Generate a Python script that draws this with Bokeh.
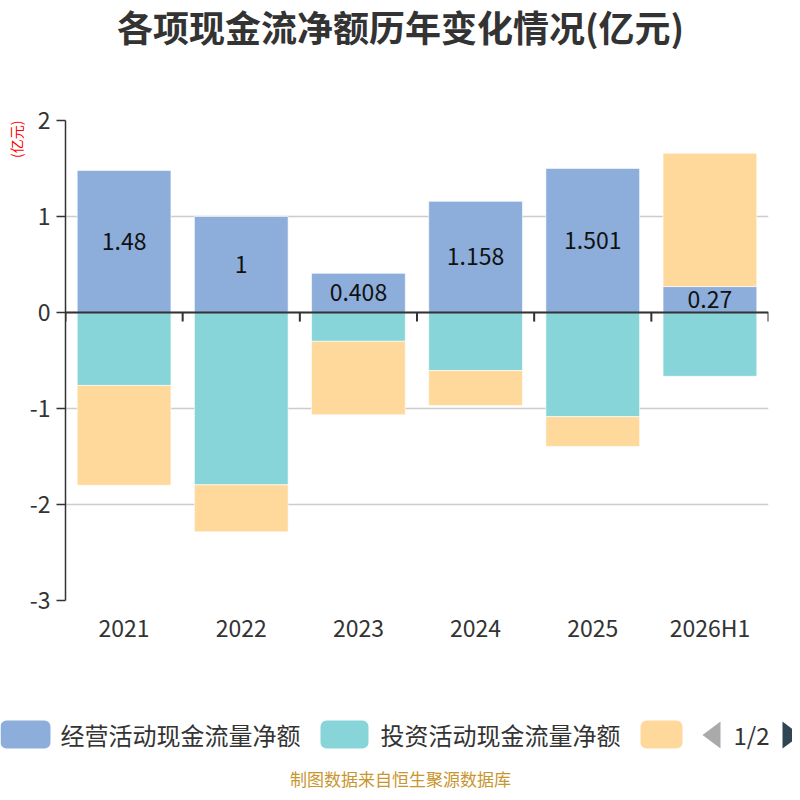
import numpy as np
from bokeh.plotting import figure
from bokeh.layouts import column
from bokeh.models import (ColumnDataSource, FixedTicker, Span, LinearAxis, Title, Range1d)
from bokeh.core.properties import value
from bokeh.embed import file_html
from bokeh.resources import INLINE

FONT = "Noto Sans CJK SC"

title_text = "各项现金流净额历年变化情况(亿元)"
y_unit = "(亿元)"
footer_text = "制图数据来自恒生聚源数据库"
categories = ["2021", "2022", "2023", "2024", "2025", "2026H1"]
series_names = ["经营活动现金流量净额", "投资活动现金流量净额", "筹资活动现金流量净额"]
operating = [1.48, 1.0, 0.408, 1.158, 1.501, 0.27]
investing = [-0.76, -1.795, -0.30, -0.605, -1.085, -0.665]
financing = [-1.04, -0.49, -0.765, -0.365, -0.31, 1.39]
operating_labels = ["1.48", "1", "0.408", "1.158", "1.501", "0.27"]
y_ticks = [-3, -2, -1, 0, 1, 2]
colors = ["#8DADDA", "#88D5D9", "#FED99B"]

W = 792


def canvas(h):
    f = figure(width=W, height=h, x_range=Range1d(0, W), y_range=Range1d(h, 0),
               output_backend="svg", toolbar_location=None,
               min_border=0, min_border_left=0, min_border_right=0,
               min_border_top=0, min_border_bottom=0,
               x_axis_location=None, y_axis_location=None)
    f.outline_line_color = None
    f.grid.visible = False
    f.border_fill_color = "white"
    f.frame_align = False
    return f


# ---------- header ----------
head = canvas(60)
head.text(x=[400], y=[25], text=[title_text], text_align="center",
          text_baseline="middle", text_font=value(FONT), text_font_size="36px",
          text_font_style="bold", text_color="#333333")

# ---------- main chart ----------
p = figure(width=W, height=640, x_range=(0, len(categories)), y_range=(-3, 2),
           output_backend="svg", toolbar_location=None,
           min_border_left=65, min_border_right=W - 768, min_border_top=60,
           min_border_bottom=100, x_axis_location=None, y_axis_location=None)
p.outline_line_color = None
p.border_fill_color = "white"
p.frame_align = False

yax = LinearAxis(ticker=FixedTicker(ticks=y_ticks),
                 major_label_overrides={t: str(t) for t in y_ticks})
yax.axis_line_color = "#333333"
yax.axis_line_width = 1.5
yax.major_tick_line_color = "#333333"
yax.major_tick_line_width = 1.5
yax.major_tick_out = 9
yax.major_tick_in = 0
yax.minor_tick_line_color = None
yax.major_label_text_font = FONT
yax.major_label_text_font_size = "23px"
yax.major_label_text_color = "#333333"
yax.major_label_standoff = 6
p.add_layout(yax, "left")

p.add_layout(Title(text=y_unit, align="right", text_font=FONT, text_font_size="14px",
                   text_color="#FF0000", text_font_style="normal", standoff=2), "left")

xs_center = [i + 0.5 for i in range(len(categories))]
xax = LinearAxis(ticker=FixedTicker(ticks=xs_center),
                 major_label_overrides={xc: c for xc, c in zip(xs_center, categories)})
xax.axis_line_color = None
xax.major_tick_line_color = None
xax.minor_tick_line_color = None
xax.major_label_text_font = FONT
xax.major_label_text_font_size = "23px"
xax.major_label_text_color = "#333333"
xax.major_label_standoff = 3
p.add_layout(xax, "below")

p.ygrid.ticker = FixedTicker(ticks=y_ticks)
p.ygrid.grid_line_color = "#CCCCCC"
p.ygrid.grid_line_width = 1.5
p.xgrid.grid_line_color = None

series = [np.array(operating), np.array(investing), np.array(financing)]
pos_base = np.zeros(len(categories))
neg_base = np.zeros(len(categories))
stacks = []
for vals in series:
    bottom = np.where(vals >= 0, pos_base, neg_base + vals)
    top = np.where(vals >= 0, pos_base + vals, neg_base)
    pos_base = np.where(vals >= 0, pos_base + vals, pos_base)
    neg_base = np.where(vals < 0, neg_base + vals, neg_base)
    stacks.append((bottom, top))

for (bottom, top), col in zip(stacks, colors):
    src = ColumnDataSource(dict(x=xs_center, bottom=bottom, top=top))
    p.vbar(x="x", bottom="bottom", top="top", width=0.8, source=src,
           fill_color=col, line_color="white", line_width=1, line_alpha=0.6)

p.add_layout(Span(location=0, dimension="width", line_color="#333333", line_width=2))
bounds = list(range(len(categories) + 1))
p.segment(x0=bounds, y0=[0] * len(bounds), x1=bounds, y1=[-0.095] * len(bounds),
          line_color="#333333", line_width=2)

ob, ot = stacks[0]
lab_src = ColumnDataSource(dict(x=xs_center, y=(ob + ot) / 2, t=operating_labels))
p.text(x="x", y="y", text="t", source=lab_src, text_align="center",
       text_baseline="middle", text_font=value(FONT), text_font_size="23px",
       text_color="#111111")

# ---------- legend + footer ----------
leg = canvas(92)
sw_left = [0, 320, 640]
sw_right = [50, 368, 682]
leg.quad(left=sw_left, right=sw_right, top=[20] * 3, bottom=[48] * 3,
         fill_color=colors, line_color=None, border_radius=6)
leg.text(x=[60, 380], y=[34, 34], text=series_names[:2], text_align="left",
         text_baseline="middle", text_font=value(FONT), text_font_size="24px",
         text_color="#333333")
leg.patches(xs=[[720, 720, 702], [782, 782, 800]], ys=[[21, 48, 34.5], [21, 48, 34.5]],
            fill_color=["#AAAAAA", "#2F4554"], line_color=None)
leg.text(x=[751], y=[34], text=["1/2"], text_align="center", text_baseline="middle",
         text_font=value(FONT), text_font_size="24px", text_color="#333333")
leg.text(x=[400], y=[78], text=[footer_text], text_align="center",
         text_baseline="middle", text_font=value(FONT), text_font_size="17px",
         text_color="#C8962E")

layout = column(head, p, leg, spacing=0)
open("out.html", "w").write(file_html(layout, INLINE))
